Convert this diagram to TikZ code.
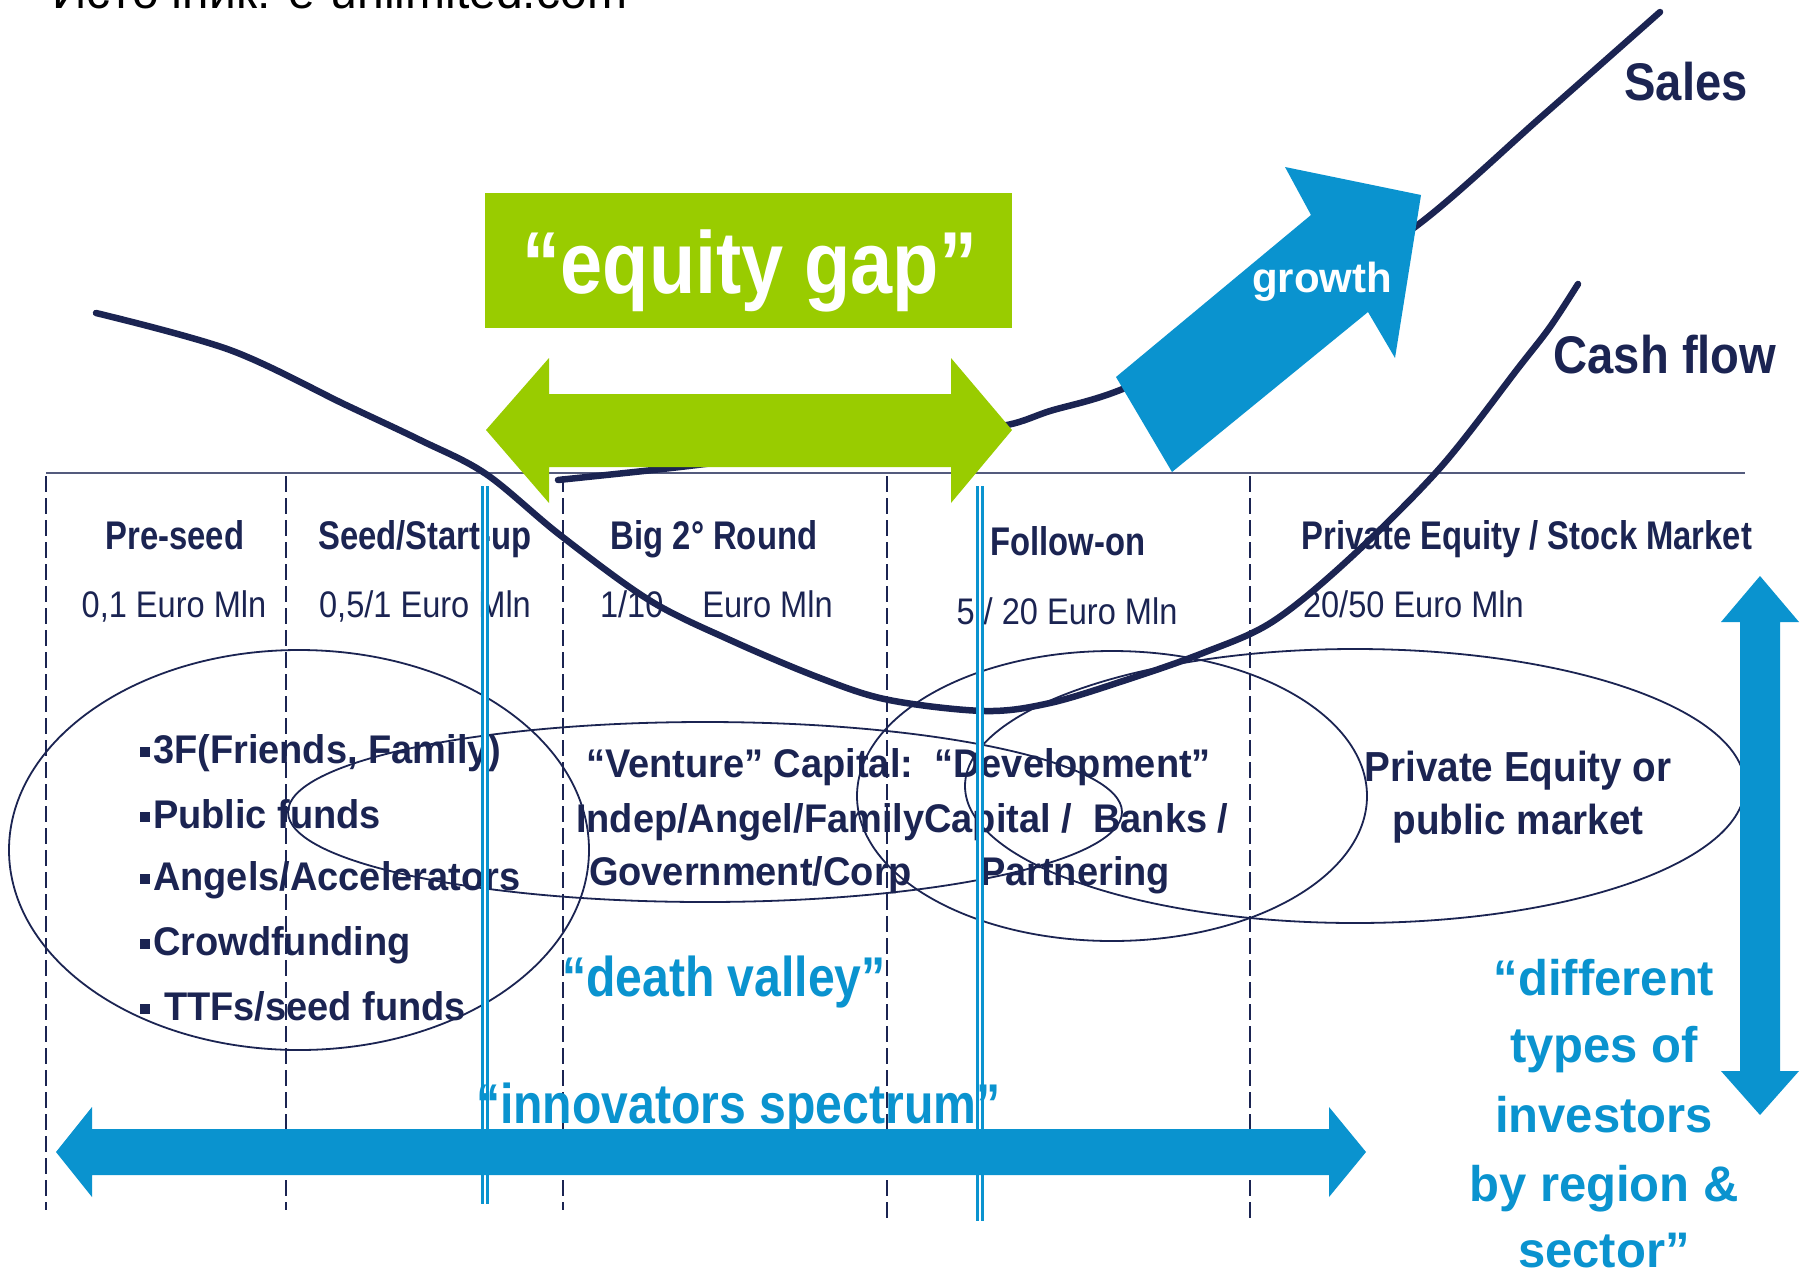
\documentclass[tikz,border=0pt]{standalone}
\usepackage{fontspec}
\setmainfont{Liberation Sans}
\newfontfamily\fhead[FakeStretch=0.82]{Liberation Sans}
\newfontfamily\fnum[FakeStretch=0.88]{Liberation Sans}
\newfontfamily\fbody[FakeStretch=0.95]{Liberation Sans}
\newfontfamily\fblue[FakeStretch=0.86]{Liberation Sans}
\newfontfamily\fcurve[FakeStretch=0.89]{Liberation Sans}
\newfontfamily\fpe[FakeStretch=0.92]{Liberation Sans}
\newfontfamily\fdiff[FakeStretch=0.98]{Liberation Sans}
\definecolor{navy}{RGB}{27,36,82}
\definecolor{ablue}{RGB}{10,147,207}
\definecolor{agreen}{RGB}{153,204,0}
\newcommand\bsq{\rule[6pt]{10pt}{10pt}\hspace{3pt}}
\tikzset{
  txt/.style={inner sep=0pt, outer sep=0pt, text=navy},
  hdtxt/.style={txt, anchor=base, font=\fhead\bfseries\fontsize{40}{48}\selectfont},
  numtxt/.style={txt, anchor=base, font=\fnum\fontsize{37}{44}\selectfont},
  bodytxt/.style={txt, anchor=base west, font=\fbody\bfseries\fontsize{40}{48}\selectfont},
  petxt/.style={txt, anchor=base, font=\fpe\bfseries\fontsize{42}{50}\selectfont},
  bluetxt/.style={txt, text=ablue, font=\fblue\bfseries\fontsize{56}{66}\selectfont},
  difftxt/.style={txt, anchor=base, text=ablue, font=\fdiff\bfseries\fontsize{50}{60}\selectfont},
  curvetxt/.style={txt, anchor=base, font=\fcurve\bfseries\fontsize{53}{62}\selectfont},
  dashln/.style={navy, line width=1.8pt, dash pattern=on 16pt off 6pt},
  ell/.style={navy, line width=1.8pt},
  curveln/.style={navy, line width=6.5pt, line cap=round},
  bluedbl/.style={draw=ablue, line width=3pt, double=white, double distance=2pt},
}
\begin{document}
\begin{tikzpicture}[x=1pt,y=-1pt]
\useasboundingbox (0,0) rectangle (1806,1274);
\fill[white] (0,0) rectangle (1806,1274);

% source line, cut by the page edge
\node[anchor=base west, inner sep=0pt, font=\fontsize{48}{56}\selectfont] (src) at (52,9) {Источник: e-unlimited.com};

% equity gap box
\fill[agreen] (485,193) rectangle (1012,328);
\node[anchor=base, inner sep=0pt, text=white, font=\fblue\bfseries\fontsize{88}{100}\selectfont] (gap) at (750,293) {“equity gap”};

% header line
\draw[navy!75, line width=2.5pt] (46,473) -- (1745,473);

% dashed columns
\foreach \x/\yb in {46/1210, 286/1210, 563/1210, 887/1218, 1250/1218}
  \draw[dashln] (\x,476) -- (\x,\yb);

% headers
\node[hdtxt] (h1) at (175,549) {Pre-seed};
\node[hdtxt] (h2) at (425,549) {Seed/Start-up};
\node[hdtxt] (h3) at (714,549) {Big 2° Round};
\node[hdtxt] (h4) at (1068,555) {Follow-on};
\node[hdtxt] (h5) at (1527,549) {Private Equity / Stock Market};
% amounts
\node[numtxt] (m1) at (174,617) {0,1 Euro Mln};
\node[numtxt] (m2) at (425,617) {0,5/1 Euro Mln};
\node[numtxt, anchor=base west] (m3) at (600,617) {1/10\hspace{30pt} Euro Mln};
\node[numtxt] (m4) at (1067,624) {5 / 20 Euro Mln};
\node[numtxt, anchor=base west] (m5) at (1303,617) {20/50 Euro Mln};

% bullets
\node[bodytxt] (b1) at (140,763) {\bsq 3F(Friends, Family)};
\node[bodytxt] (b2) at (140,828) {\bsq Public funds};
\node[bodytxt] (b3) at (140,890) {\bsq Angels/Accelerators};
\node[bodytxt] (b4) at (140,955) {\bsq Crowdfunding};
\node[bodytxt] (b5) at (140,1020) {\bsq\hspace{11pt}TTFs/seed funds};

% venture / development
\node[bodytxt] (v1) at (586,777) {“Venture” Capital:\ \ “Development”};
\node[bodytxt] (v2) at (576,832) {Indep/Angel/FamilyCapital /\ \ Banks /};
\node[bodytxt] (v3) at (589,885) {Government/Corp\hspace{68pt}Partnering};

% private equity
\node[petxt] (pe1) at (1518,781) {Private Equity or};
\node[petxt] (pe2) at (1518,834) {public market};

% different types
\node[difftxt] (d1) at (1604,995) {“different};
\node[difftxt] (d2) at (1604,1062) {types of};
\node[difftxt] (d3) at (1604,1132) {investors};
\node[difftxt] (d4) at (1604,1201) {by region \&};
\node[difftxt] (d5) at (1604,1267) {sector”};

% death valley
\node[bluetxt, anchor=base west] (dv) at (562,996) {“death valley”};

% ellipses
\draw[ell] (299,850) ellipse [x radius=290pt, y radius=200pt];
\draw[ell] (705,812) ellipse [x radius=417pt, y radius=90pt];
\draw[ell] (1112,796) ellipse [x radius=255pt, y radius=145pt];
\draw[ell] (1355,786) ellipse [x radius=390pt, y radius=137pt];

% cash flow curve
\draw[curveln] plot[smooth, tension=0.55] coordinates {(96,313) (230,350) (346,405) (420,440) (486,474) (560,535) (649,600) (730,640) (820,678) (889,700) (985,711) (1050,703) (1126,680) (1203,653) (1272,622) (1348,560) (1440,468) (1519,367) (1550,327) (1578,284)};
\node[curvetxt] (cash) at (1665,373) {Cash flow};

% sales curve
\draw[curveln] plot[smooth, tension=0.5] coordinates {(558,480) (680,467) (800,452) (920,437) (1007,425) (1050,411) (1125,388) (1270,318) (1415,227) (1540,118) (1660,12)};
\node[curvetxt] (sales) at (1686,100) {Sales};

% blue double lines
\draw[bluedbl] (485,486) -- (485,1204);
\draw[bluedbl] (980,486) -- (980,1221);

% green double arrow
\fill[agreen] (486,430) -- (549,358) -- (549,394) -- (951,394) -- (951,358) -- (1012,430) -- (951,503) -- (951,467) -- (549,467) -- (549,503) -- cycle;

% growth arrow
\fill[ablue] (1116,377) -- (1311,215) -- (1285,167) -- (1421,195) -- (1395,358) -- (1368,312) -- (1172,472) -- cycle;
\node[txt, anchor=base, text=white, font=\bfseries\fontsize{42}{50}\selectfont] (gr) at (1322,292) {growth};

% innovators spectrum arrow
\fill[ablue] (56,1152) -- (92,1107) -- (92,1129) -- (1329,1129) -- (1329,1107) -- (1366,1152) -- (1329,1197) -- (1329,1175) -- (92,1175) -- (92,1197) -- cycle;
\node[bluetxt, anchor=base west] (inn) at (476,1123) {“innovators spectrum”};

% vertical investors arrow
\fill[ablue] (1760,576) -- (1799,622) -- (1780,622) -- (1780,1071) -- (1799,1071) -- (1760,1115) -- (1721,1071) -- (1740,1071) -- (1740,622) -- (1721,622) -- cycle;
\end{tikzpicture}
\end{document}
